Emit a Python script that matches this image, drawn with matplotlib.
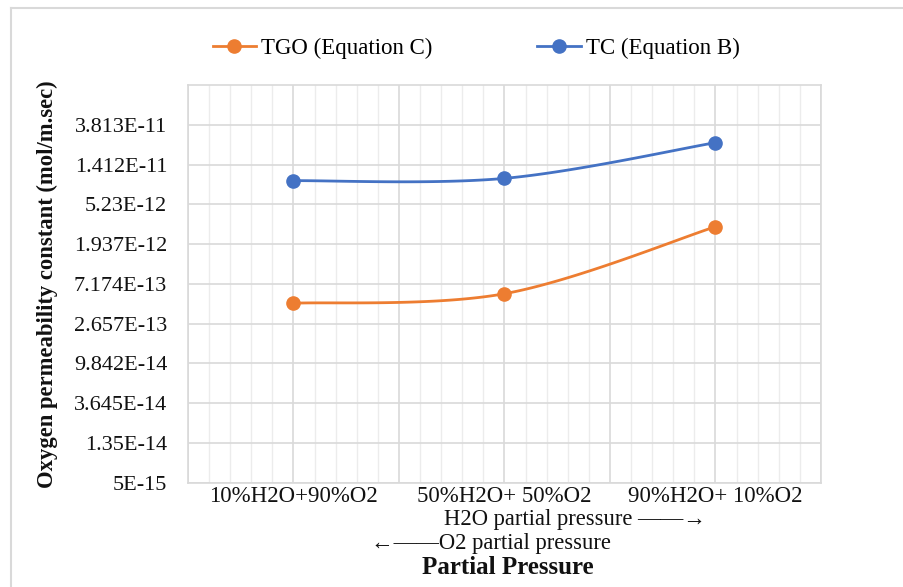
import numpy as np
import matplotlib
matplotlib.use("Agg")
import matplotlib.pyplot as plt
from matplotlib.lines import Line2D
from matplotlib.ticker import FixedLocator, FixedFormatter, NullLocator, MultipleLocator

plt.rcParams['font.family'] = ['Liberation Serif', 'DejaVu Serif']

# ---- data ----
categories = ["10%H2O+90%O2", "50%H2O+ 50%O2", "90%H2O+ 10%O2"]
tgo_values = [4.42e-13, 5.61e-13, 2.99e-12]   # TGO (Equation C)
tc_values = [9.44e-12, 1.00e-11, 2.44e-11]    # TC (Equation B)
y_tick_labels = ["5E-15", "1.35E-14", "3.645E-14", "9.842E-14", "2.657E-13",
                 "7.174E-13", "1.937E-12", "5.23E-12", "1.412E-11", "3.813E-11"]

ORANGE = "#ED7D31"
BLUE = "#4472C4"
GRID = "#D9D9D9"
MINOR_GRID = "#ECECEC"
TEXT = "#111111"


def smooth(xs, ys, n=60):
    """Spreadsheet-style smoothed line (cubic Bezier / Catmull-Rom) in (x, log y)."""
    px = np.asarray(xs, float)
    py = np.log(np.asarray(ys, float))
    pts = np.column_stack([px, py])
    ext = np.vstack([pts[0], pts, pts[-1]])
    out = []
    for i in range(len(pts) - 1):
        p0, p1, p2, p3 = ext[i], ext[i + 1], ext[i + 2], ext[i + 3]
        c1 = p1 + (p2 - p0) / 6.0
        c2 = p2 - (p3 - p1) / 6.0
        t = np.linspace(0, 1, n)[:, None]
        seg = ((1 - t) ** 3) * p1 + 3 * ((1 - t) ** 2) * t * c1 + 3 * (1 - t) * t ** 2 * c2 + t ** 3 * p2
        out.append(seg if i == 0 else seg[1:])
    curve = np.vstack(out)
    return curve[:, 0], np.exp(curve[:, 1])


W, H = 904, 587
fig = plt.figure(figsize=(W / 100, H / 100), dpi=100)
fig.patch.set_facecolor("white")

left, right, top, bottom = 188, 821, 85, 482.7
ax = fig.add_axes([left / W, 1 - bottom / H, (right - left) / W, (bottom - top) / H])

x = np.arange(len(categories))
y_ticks = [float(s) for s in y_tick_labels]

ax.set_yscale("log")
ax.set_ylim(y_ticks[0], y_ticks[-1] * y_ticks[-1] / y_ticks[-2])
ax.yaxis.set_major_locator(FixedLocator(y_ticks))
ax.yaxis.set_major_formatter(FixedFormatter(y_tick_labels))
ax.yaxis.set_minor_locator(NullLocator())

ax.set_xlim(-0.5, len(categories) - 0.5)
ax.xaxis.set_major_locator(MultipleLocator(0.5))
ax.xaxis.set_minor_locator(MultipleLocator(0.1))
ax.set_xticklabels([])

# grid
ax.grid(True, which="major", axis="both", color=GRID, linewidth=1.2, zorder=0)
ax.grid(True, which="minor", axis="x", color=MINOR_GRID, linewidth=1.0, zorder=0)
ax.set_axisbelow(True)
for sp in ax.spines.values():
    sp.set_color(GRID)
    sp.set_linewidth(1.2)

ax.tick_params(axis="both", which="both", length=0)
ax.tick_params(axis="y", labelsize=16, pad=15, labelcolor=TEXT)

# category labels
for xi, lab in zip(x, categories):
    ax.text(xi, -0.008, lab, transform=ax.get_xaxis_transform(), ha="center", va="top",
            fontsize=16.5, color=TEXT)

# series
for vals, col in ((tgo_values, ORANGE), (tc_values, BLUE)):
    sx, sy = smooth(x, vals)
    ax.plot(sx, sy, color=col, linewidth=2.0, zorder=3, solid_capstyle="round")
    ax.plot(x, vals, linestyle="none", marker="o", markersize=9.5, color=col, zorder=4)

# legend
handles = [Line2D([], [], color=ORANGE, linewidth=2.0, marker="o", markersize=9.5),
           Line2D([], [], color=BLUE, linewidth=2.0, marker="o", markersize=9.5)]
fig.legend(handles, ["TGO (Equation C)", "TC (Equation B)"], loc="center",
           bbox_to_anchor=(476 / W, 1 - 48 / H), ncol=2, frameon=False,
           fontsize=16.5, handlelength=1.9, handletextpad=0.2, columnspacing=4.6)

# axis titles
fig.text(47 / W, 1 - 284 / H, "Oxygen permeability constant (mol/m.sec)", rotation=90,
         ha="center", va="center", fontsize=16.3, fontweight="bold", color=TEXT)
fig.text(575 / W, 1 - 519 / H, "H2O partial pressure \u2014\u2014\u2192", ha="center", va="center",
         fontsize=16.3, color=TEXT)
fig.text(491 / W, 1 - 544 / H, "\u2190\u2014\u2014O2 partial pressure", ha="center", va="center",
         fontsize=16.3, color=TEXT)
fig.text(508 / W, 1 - 567 / H, "Partial Pressure", ha="center", va="center",
         fontsize=18, fontweight="bold", color=TEXT)

# outer chart border
fig.add_artist(Line2D([11 / W, 1.0], [1 - 8 / H, 1 - 8 / H], color=GRID, linewidth=1.5))
fig.add_artist(Line2D([11 / W, 11 / W], [1 - 8 / H, 0.0], color=GRID, linewidth=1.5))

fig.savefig("out.png", dpi=100, facecolor="white")
